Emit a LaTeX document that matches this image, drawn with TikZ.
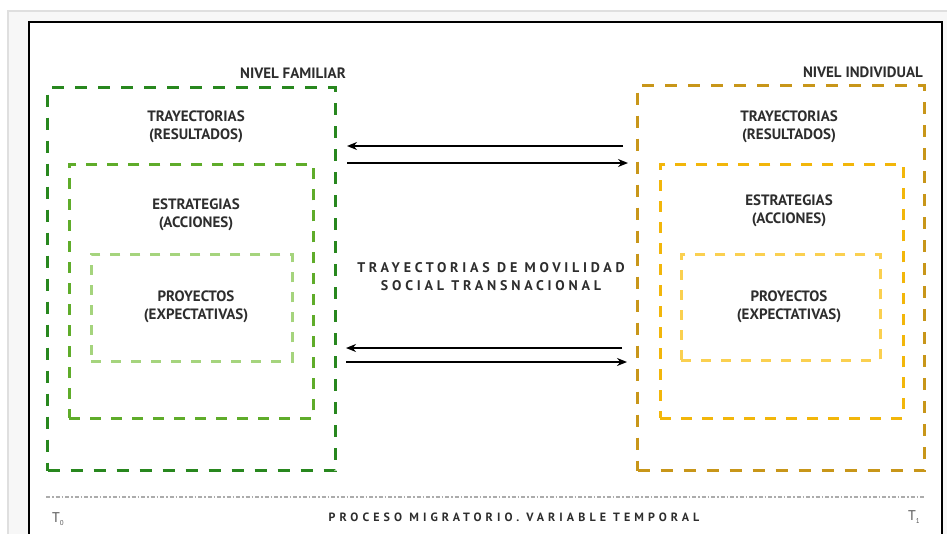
\documentclass[tikz,border=0pt]{standalone}
\usepackage{fontspec}
\setmainfont{PT Sans}
\usetikzlibrary{arrows.meta,calc}
\definecolor{famO}{RGB}{40,135,30}
\definecolor{famM}{RGB}{95,172,42}
\definecolor{famI}{RGB}{165,212,125}
\definecolor{indO}{RGB}{200,150,25}
\definecolor{indM}{RGB}{242,182,10}
\definecolor{indI}{RGB}{250,208,80}
\definecolor{txt}{RGB}{45,45,45}
\begin{document}
\begin{tikzpicture}[x=1pt,y=-1pt,
  boxo/.style={draw, dash pattern=on 12pt off 11pt, line width=3pt, anchor=north west, inner sep=0pt},
  boxm/.style={draw, dash pattern=on 11pt off 10pt, line width=2.8pt, anchor=north west, inner sep=0pt},
  boxi/.style={draw, dash pattern=on 10pt off 10pt, line width=2.6pt, anchor=north west, inner sep=0pt},
  lbl/.style={font=\bfseries\fontsize{15}{18.5}\selectfont, text=txt, align=center, inner sep=0pt},
  lvl/.style={font=\bfseries\fontsize{15}{16}\selectfont, text=txt, anchor=east, inner sep=0pt},
  arr/.style={line width=2.2pt, -{Stealth[length=10pt,width=8pt]}},
  spaced/.style={font=\bfseries\fontsize{14}{18}\selectfont\addfontfeatures{LetterSpace=27}, text=txt, align=center, inner sep=0pt}
]
\useasboundingbox (0,0) rectangle (947,533);
% page background and frame
\fill[gray!6, draw=gray!25, line width=1.5pt] (8,11) rectangle (950,540);
\fill[white, draw=black, line width=2pt] (29,22) rectangle (942,545);

% familiar boxes
\node[boxo, draw=famO, minimum width=288pt, minimum height=383pt] (famO) at (46,86) {};
\node[boxm, draw=famM, minimum width=244pt, minimum height=254pt] (famM) at (68,163) {};
\node[boxi, draw=famI, minimum width=201pt, minimum height=107pt] (famI) at (90,253) {};
\node[lvl] (famL) at (346,73) {NIVEL FAMILIAR};
\node[lbl] (famT) at (196,127) {TRAYECTORIAS\\(RESULTADOS)};
\node[lbl] (famE) at (196,215) {ESTRATEGIAS\\(ACCIONES)};
\node[lbl] (famP) at (196,307) {PROYECTOS\\(EXPECTATIVAS)};

% individual boxes
\node[boxo, draw=indO, minimum width=287pt, minimum height=385pt] (indO) at (636,84) {};
\node[boxm, draw=indM, minimum width=243pt, minimum height=254pt] (indM) at (659,163) {};
\node[boxi, draw=indI, minimum width=199pt, minimum height=106pt] (indI) at (680,253) {};
\node[lvl] (indL) at (923,72) {NIVEL INDIVIDUAL};
\node[lbl] (indT) at (789,127) {TRAYECTORIAS\\(RESULTADOS)};
\node[lbl] (indE) at (789,211) {ESTRATEGIAS\\(ACCIONES)};
\node[lbl] (indP) at (789,307) {PROYECTOS\\(EXPECTATIVAS)};

% centre text
\node[spaced] (mid) at (491,277) {TRAYECTORIAS DE MOVILIDAD\\SOCIAL TRANSNACIONAL};

% arrows
\coordinate (a1s) at (623,146); \coordinate (a1e) at (347,146);
\coordinate (a2s) at (347,163); \coordinate (a2e) at (628,163);
\coordinate (a3s) at (622,348); \coordinate (a3e) at (346,348);
\coordinate (a4s) at (346,362); \coordinate (a4e) at (627,362);
\draw[arr] (a1s) -- (a1e);
\draw[arr] (a2s) -- (a2e);
\draw[arr] (a3s) -- (a3e);
\draw[arr] (a4s) -- (a4e);

% time axis
\coordinate (t0) at (46,497); \coordinate (t1) at (925,497);
\draw[gray!65, line width=2pt, dash pattern=on 4pt off 2pt on 1.5pt off 2pt] (t0) -- (t1);
\node[font=\fontsize{14}{15}\selectfont, text=txt!80] (T0) at (58,519) {T\raisebox{-3pt}{\fontsize{7}{8}\selectfont 0}};
\node[font=\fontsize{14}{15}\selectfont, text=txt!80] (T1) at (914,517) {T\raisebox{-3pt}{\fontsize{7}{8}\selectfont 1}};
\node[font=\bfseries\fontsize{12}{13}\selectfont\addfontfeatures{LetterSpace=34}, text=txt, inner sep=0pt] (proc) at (514,517) {PROCESO MIGRATORIO. VARIABLE TEMPORAL};
\end{tikzpicture}
\end{document}
